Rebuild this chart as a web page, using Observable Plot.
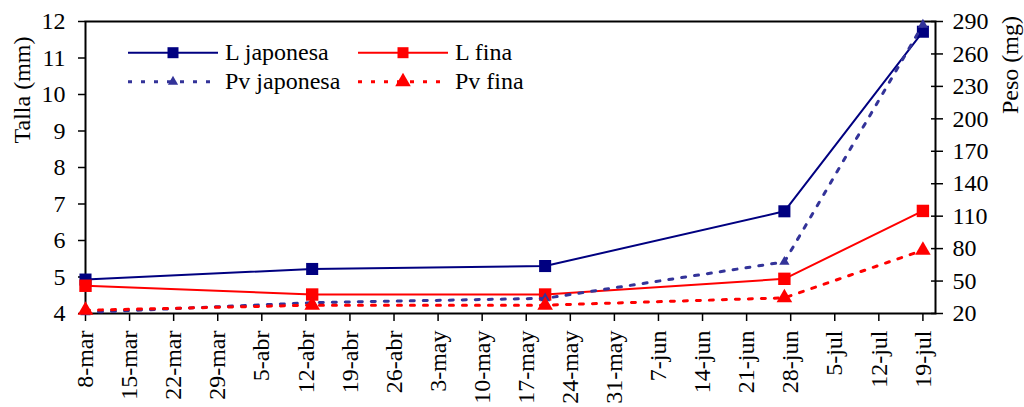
<!DOCTYPE html>
<html><head><meta charset="utf-8">
<script src="https://cdn.jsdelivr.net/npm/d3@7"></script>
<script src="https://cdn.jsdelivr.net/npm/@observablehq/plot@0.6"></script>
<style>
body{margin:0;background:#fff;font-family:'Liberation Serif';font-size:24px;}
.s{font-family:'Liberation Serif'}
#wrap{position:relative;width:1024px;height:407px;}
#legend{position:absolute;left:0;top:0;pointer-events:none;}
.ytitle{position:absolute;width:200px;height:30px;line-height:30px;text-align:center;font-size:24px;color:#000;transform:rotate(-90deg);white-space:nowrap;}
</style></head><body class="s"><div id="wrap" class="s" style="font-family:'Liberation Serif'"></div>
<script>
// ---- data ----
const fechas = ["2005-03-08","2005-04-13","2005-05-20","2005-06-27","2005-07-19"];
const lJaponesa = [4.93, 5.22, 5.30, 6.80, 11.72];
const lFina = [4.76, 4.52, 4.52, 4.95, 6.81];
const pvJaponesa = [21, 30, 34, 67.7, 287];
const pvFina = [23, 27.7, 27.7, 34.5, 78.5];
const series = ["L japonesa", "L fina", "Pv japonesa", "Pv fina"];
const colores = ["#000080", "#FF0000", "#333399", "#FF0000"];
const tallaTicks = [4, 5, 6, 7, 8, 9, 10, 11, 12];
const pesoTicks = [20, 50, 80, 110, 140, 170, 200, 230, 260, 290];
const tickFechas = ["2005-03-08","2005-03-15","2005-03-22","2005-03-29","2005-04-05","2005-04-12","2005-04-19","2005-04-26","2005-05-03","2005-05-10","2005-05-17","2005-05-24","2005-05-31","2005-06-07","2005-06-14","2005-06-21","2005-06-28","2005-07-05","2005-07-12","2005-07-19"];
const tickLabels = ["8-mar","15-mar","22-mar","29-mar","5-abr","12-abr","19-abr","26-abr","3-may","10-may","17-may","24-may","31-may","7-jun","14-jun","21-jun","28-jun","5-jul","12-jul","19-jul"];
const xDomain = ["2005-03-08","2005-07-21"];
const tituloIzq = "Talla (mm)", tituloDer = "Peso (mg)";
const tallaMin = 4, tallaMax = 12, pesoMin = 20, pesoMax = 290;

// ---- helpers ----
const parse = d3.utcParse("%Y-%m-%d");
const toLeft = v => tallaMin + (v - pesoMin) * (tallaMax - tallaMin) / (pesoMax - pesoMin);
const rows = (vals, conv) => fechas.map((f, i) => ({fecha: parse(f), v: conv ? conv(vals[i]) : vals[i]}));
const labelMap = new Map(tickFechas.map((f, i) => [+parse(f), tickLabels[i]]));
const pesoMap = new Map(pesoTicks.map(t => [toLeft(t), String(t)]));

const dJ = rows(lJaponesa), dF = rows(lFina), dPJ = rows(pvJaponesa, toLeft), dPF = rows(pvFina, toLeft);
const font = "Liberation Serif";

const chart = Plot.plot({
  width: 1024, height: 407,
  marginLeft: 85, marginRight: 89, marginTop: 21, marginBottom: 94,
  style: {fontFamily: font, fontSize: "24px", color: "black", background: "white", overflow: "visible"},
  x: {type: "utc", domain: xDomain.map(parse), label: null},
  y: {domain: [tallaMin, tallaMax], label: null},
  marks: [
    Plot.axisY(tallaTicks, {anchor: "left", tickSize: 7, tickPadding: 13, strokeWidth: 1.5, label: null}),
    Plot.axisY(pesoTicks.map(toLeft), {anchor: "right", tickSize: 12, dx: -5, strokeWidth: 1.5, tickFormat: () => "", label: null}),
    Plot.axisY(pesoTicks.map(toLeft), {anchor: "right", tickSize: 0, tickPadding: 17, tickFormat: d => pesoMap.get(d), label: null}),
    Plot.axisX(tickFechas.map(parse), {anchor: "bottom", tickSize: 8, tickPadding: 9, tickRotate: -90, strokeWidth: 1.5, tickFormat: d => labelMap.get(+d), label: null}),
    Plot.frame({stroke: "black", strokeWidth: 2}),
    Plot.line(dJ, {x: "fecha", y: "v", stroke: colores[0], strokeWidth: 2}),
    Plot.dot(dJ, {x: "fecha", y: "v", symbol: "square", r: 6.8, fill: colores[0]}),
    Plot.line(dF, {x: "fecha", y: "v", stroke: colores[1], strokeWidth: 2}),
    Plot.dot(dF, {x: "fecha", y: "v", symbol: "square", r: 7, fill: colores[1]}),
    Plot.line(dPJ, {x: "fecha", y: "v", stroke: colores[2], strokeWidth: 3, strokeDasharray: "4,9"}),
    Plot.dot(dPJ, {x: "fecha", y: "v", symbol: "triangle", r: 3.8, fill: colores[2]}),
    Plot.line(dPF, {x: "fecha", y: "v", stroke: colores[3], strokeWidth: 3, strokeDasharray: "4,9"}),
    Plot.dot(dPF, {x: "fecha", y: "v", symbol: "triangle", r: 5.8, fill: colores[3]})
  ]
});
const wrap = document.getElementById("wrap");
wrap.appendChild(chart);

// ---- axis titles (HTML, rotated) ----
function titulo(txt, cx, cy) {
  const d = document.createElement("div");
  d.className = "ytitle s";
  d.style.fontFamily = "'Liberation Serif'";
  d.textContent = txt;
  d.style.left = (cx - 100) + "px";
  d.style.top = (cy - 15) + "px";
  wrap.appendChild(d);
}
titulo(tituloIzq, 22, 90);
titulo(tituloDer, 1010, 65);

// ---- legend ----
const leg = d3.select(wrap).append("svg").attr("id", "legend").attr("width", 1024).attr("height", 110);
const items = [
  {i: 0, x: 128, y: 52.7, sym: d3.symbolSquare, size: 121, dash: null, w: 2},
  {i: 1, x: 358, y: 52.7, sym: d3.symbolSquare, size: 121, dash: null, w: 2},
  {i: 2, x: 128, y: 81.7, sym: d3.symbolTriangle, size: 45, dash: "4,9", w: 3},
  {i: 3, x: 358, y: 81.7, sym: d3.symbolTriangle, size: 105, dash: "4,9", w: 3}
];
for (const it of items) {
  const g = leg.append("g").attr("transform", `translate(${it.x},${it.y})`);
  g.append("line").attr("x1", 0).attr("x2", 90).attr("stroke", colores[it.i]).attr("stroke-width", it.w)
    .attr("stroke-dasharray", it.dash);
  g.append("path").attr("d", d3.symbol(it.sym, it.size)()).attr("transform", "translate(45,0)").attr("fill", colores[it.i]);
  g.append("text").attr("x", 97).attr("y", 0).attr("dy", "0.32em").attr("font-family", font).attr("font-size", 24)
    .attr("fill", "black").text(series[it.i]);
}
</script>
</body></html>
